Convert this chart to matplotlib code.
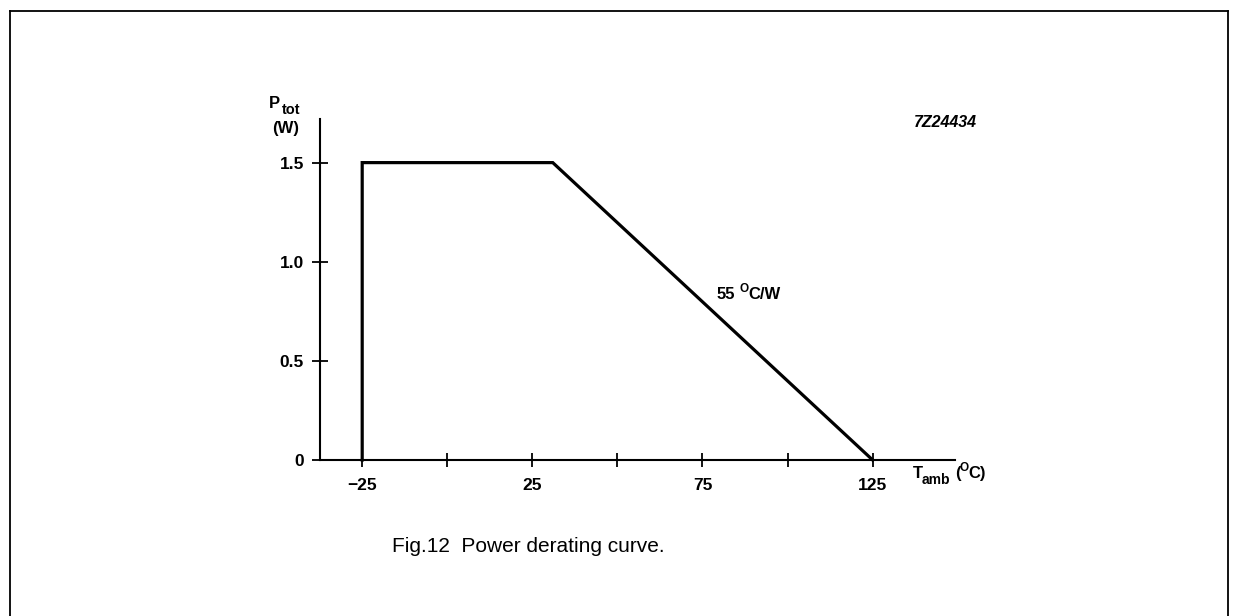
import numpy as np
import matplotlib
matplotlib.use("Agg")
import matplotlib.pyplot as plt
from matplotlib.lines import Line2D

plt.rcParams["font.family"] = ["Liberation Sans", "DejaVu Sans"]

# derating curve (T_amb in degC, P_tot in W)
t_amb = [-25, -25, 31, 125]
p_tot = [0, 1.5, 1.5, 0]

x_ticks = [-25, 0, 25, 50, 75, 100, 125]
x_labels = ["\u221225", "", "25", "", "75", "", "125"]
y_ticks = [0, 0.5, 1.0, 1.5]
y_labels = ["0", "0.5", "1.0", "1.5"]

W, H = 1239, 616
fig = plt.figure(figsize=(W / 100, H / 100), dpi=100)


def txt(x, y, s, size=12, **kw):
    # place text by pixel position (from top left)
    kw.setdefault("fontweight", "bold")
    return fig.text(x / W, 1 - y / H, s, fontsize=size, **kw)


# frame round the figure
for xs, ys in [([10, 10], [H + 5, 11]), ([10, 1228], [11, 11]), ([1228, 1228], [11, H + 5])]:
    fig.add_artist(Line2D([x / W for x in xs], [1 - y / H for y in ys],
                          color="black", lw=1.3, transform=fig.transFigure, clip_on=False))

ax = fig.add_axes([320 / W, (H - 460) / H, 635 / W, 341 / H])
ax.plot(t_amb, p_tot, color="black", lw=2.3, solid_joinstyle="miter", clip_on=False)
ax.set_xlim(-37.4, 149.2)
ax.set_ylim(0, 1.72)

for s in ["top", "right"]:
    ax.spines[s].set_visible(False)
for s in ["left", "bottom"]:
    ax.spines[s].set_linewidth(1.5)

ax.set_xticks(x_ticks)
ax.set_xticklabels(x_labels)
ax.set_yticks(y_ticks)
ax.set_yticklabels(y_labels)
ax.tick_params(axis="x", direction="inout", length=10, width=1.3, pad=8,
               labelsize=12.5)
ax.tick_params(axis="y", direction="inout", length=11, width=1.3, pad=6,
               labelsize=12.5)
for lab in ax.get_xticklabels() + ax.get_yticklabels():
    lab.set_fontweight("bold")

# axis labels
txt(269, 108, "P", ha="left", va="baseline")
txt(282, 114, "tot", 10.5, ha="left", va="baseline")
txt(286, 133, "(W)", ha="center", va="baseline")

txt(913, 478, "T", ha="left", va="baseline")
txt(922, 484, "amb", 10, ha="left", va="baseline")
txt(955, 478, "(", ha="left", va="baseline")
txt(960, 471, "O", 8.5, ha="left", va="baseline")
txt(968, 478, "C)", ha="left", va="baseline")

txt(717, 299, "55", ha="left", va="baseline")
txt(740, 292, "O", 8.5, ha="left", va="baseline")
txt(748, 299, "C/W", ha="left", va="baseline")

txt(977, 127, "7Z24434", 11.5, ha="right", va="baseline", style="italic")

txt(528, 547, "Fig.12  Power derating curve.", 15, ha="center", va="center",
    fontweight="normal")

fig.savefig("out.png", dpi=100)
